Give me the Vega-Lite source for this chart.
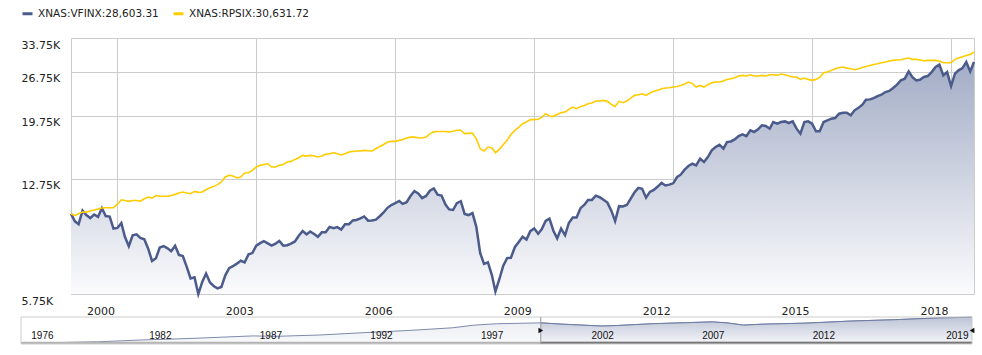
{
  "$schema": "https://vega.github.io/schema/vega-lite/v6.json",
  "background": "white",
  "padding": {"left": 20, "top": 7, "right": 5, "bottom": 5},
  "columns": 1,
  "spacing": -6,
  "config": {
    "font": "DejaVu Sans",
    "view": {"stroke": "#cccccc"},
    "axis": {"domain": false, "ticks": false, "tickSize": 0, "labelColor": "#222222", "labelFont": "DejaVu Sans", "labelFontSize": 11, "gridColor": "#cccccc", "gridWidth": 1, "title": null, "labelOverlap": false, "labelFlush": false}
  },
  "datasets": {
    "main": [
      {"d":"2000-01-01","s":"VFINX","v":10000},{"d":"2000-02-01","s":"VFINX","v":9500},{"d":"2000-03-01","s":"VFINX","v":9320},{"d":"2000-04-01","s":"VFINX","v":10233},{"d":"2000-05-01","s":"VFINX","v":9926},{"d":"2000-06-01","s":"VFINX","v":9717},{"d":"2000-07-01","s":"VFINX","v":9960},{"d":"2000-08-01","s":"VFINX","v":9801},{"d":"2000-09-01","s":"VFINX","v":10408},{"d":"2000-10-01","s":"VFINX","v":9857},{"d":"2000-11-01","s":"VFINX","v":9817},{"d":"2000-12-01","s":"VFINX","v":9032},
      {"d":"2001-01-01","s":"VFINX","v":9077},{"d":"2001-02-01","s":"VFINX","v":9395},{"d":"2001-03-01","s":"VFINX","v":8540},{"d":"2001-04-01","s":"VFINX","v":8002},{"d":"2001-05-01","s":"VFINX","v":8626},{"d":"2001-06-01","s":"VFINX","v":8686},{"d":"2001-07-01","s":"VFINX","v":8478},{"d":"2001-08-01","s":"VFINX","v":8393},{"d":"2001-09-01","s":"VFINX","v":7864},{"d":"2001-10-01","s":"VFINX","v":7227},{"d":"2001-11-01","s":"VFINX","v":7365},{"d":"2001-12-01","s":"VFINX","v":7932},
      {"d":"2002-01-01","s":"VFINX","v":8003},{"d":"2002-02-01","s":"VFINX","v":7883},{"d":"2002-03-01","s":"VFINX","v":7733},{"d":"2002-04-01","s":"VFINX","v":8027},{"d":"2002-05-01","s":"VFINX","v":7537},{"d":"2002-06-01","s":"VFINX","v":7477},{"d":"2002-07-01","s":"VFINX","v":6946},{"d":"2002-08-01","s":"VFINX","v":6404},{"d":"2002-09-01","s":"VFINX","v":6449},{"d":"2002-10-01","s":"VFINX","v":5746},{"d":"2002-11-01","s":"VFINX","v":6252},{"d":"2002-12-01","s":"VFINX","v":6621},
      {"d":"2003-01-01","s":"VFINX","v":6230},{"d":"2003-02-01","s":"VFINX","v":6068},{"d":"2003-03-01","s":"VFINX","v":5977},{"d":"2003-04-01","s":"VFINX","v":6037},{"d":"2003-05-01","s":"VFINX","v":6532},{"d":"2003-06-01","s":"VFINX","v":6878},{"d":"2003-07-01","s":"VFINX","v":6967},{"d":"2003-08-01","s":"VFINX","v":7093},{"d":"2003-09-01","s":"VFINX","v":7235},{"d":"2003-10-01","s":"VFINX","v":7155},{"d":"2003-11-01","s":"VFINX","v":7563},{"d":"2003-12-01","s":"VFINX","v":7631},
      {"d":"2004-01-01","s":"VFINX","v":8028},{"d":"2004-02-01","s":"VFINX","v":8172},{"d":"2004-03-01","s":"VFINX","v":8287},{"d":"2004-04-01","s":"VFINX","v":8162},{"d":"2004-05-01","s":"VFINX","v":8032},{"d":"2004-06-01","s":"VFINX","v":8144},{"d":"2004-07-01","s":"VFINX","v":8299},{"d":"2004-08-01","s":"VFINX","v":8025},{"d":"2004-09-01","s":"VFINX","v":8057},{"d":"2004-10-01","s":"VFINX","v":8146},{"d":"2004-11-01","s":"VFINX","v":8268},{"d":"2004-12-01","s":"VFINX","v":8599},
      {"d":"2005-01-01","s":"VFINX","v":8891},{"d":"2005-02-01","s":"VFINX","v":8678},{"d":"2005-03-01","s":"VFINX","v":8860},{"d":"2005-04-01","s":"VFINX","v":8701},{"d":"2005-05-01","s":"VFINX","v":8535},{"d":"2005-06-01","s":"VFINX","v":8808},{"d":"2005-07-01","s":"VFINX","v":8817},{"d":"2005-08-01","s":"VFINX","v":9143},{"d":"2005-09-01","s":"VFINX","v":9061},{"d":"2005-10-01","s":"VFINX","v":9133},{"d":"2005-11-01","s":"VFINX","v":8978},{"d":"2005-12-01","s":"VFINX","v":9319},
      {"d":"2006-01-01","s":"VFINX","v":9319},{"d":"2006-02-01","s":"VFINX","v":9561},{"d":"2006-03-01","s":"VFINX","v":9590},{"d":"2006-04-01","s":"VFINX","v":9705},{"d":"2006-05-01","s":"VFINX","v":9831},{"d":"2006-06-01","s":"VFINX","v":9546},{"d":"2006-07-01","s":"VFINX","v":9556},{"d":"2006-08-01","s":"VFINX","v":9613},{"d":"2006-09-01","s":"VFINX","v":9844},{"d":"2006-10-01","s":"VFINX","v":10100},{"d":"2006-11-01","s":"VFINX","v":10433},{"d":"2006-12-01","s":"VFINX","v":10631},
      {"d":"2007-01-01","s":"VFINX","v":10780},{"d":"2007-02-01","s":"VFINX","v":10942},{"d":"2007-03-01","s":"VFINX","v":10723},{"d":"2007-04-01","s":"VFINX","v":10841},{"d":"2007-05-01","s":"VFINX","v":11318},{"d":"2007-06-01","s":"VFINX","v":11714},{"d":"2007-07-01","s":"VFINX","v":11515},{"d":"2007-08-01","s":"VFINX","v":11158},{"d":"2007-09-01","s":"VFINX","v":11325},{"d":"2007-10-01","s":"VFINX","v":11744},{"d":"2007-11-01","s":"VFINX","v":11932},{"d":"2007-12-01","s":"VFINX","v":11431},
      {"d":"2008-01-01","s":"VFINX","v":11351},{"d":"2008-02-01","s":"VFINX","v":10670},{"d":"2008-03-01","s":"VFINX","v":10318},{"d":"2008-04-01","s":"VFINX","v":10277},{"d":"2008-05-01","s":"VFINX","v":10780},{"d":"2008-06-01","s":"VFINX","v":10920},{"d":"2008-07-01","s":"VFINX","v":10003},{"d":"2008-08-01","s":"VFINX","v":9923},{"d":"2008-09-01","s":"VFINX","v":10062},{"d":"2008-10-01","s":"VFINX","v":9166},{"d":"2008-11-01","s":"VFINX","v":7626},{"d":"2008-12-01","s":"VFINX","v":7077},
      {"d":"2009-01-01","s":"VFINX","v":7155},{"d":"2009-02-01","s":"VFINX","v":6554},{"d":"2009-03-01","s":"VFINX","v":5853},{"d":"2009-04-01","s":"VFINX","v":6368},{"d":"2009-05-01","s":"VFINX","v":6979},{"d":"2009-06-01","s":"VFINX","v":7370},{"d":"2009-07-01","s":"VFINX","v":7385},{"d":"2009-08-01","s":"VFINX","v":7946},{"d":"2009-09-01","s":"VFINX","v":8232},{"d":"2009-10-01","s":"VFINX","v":8537},{"d":"2009-11-01","s":"VFINX","v":8375},{"d":"2009-12-01","s":"VFINX","v":8877},
      {"d":"2010-01-01","s":"VFINX","v":9046},{"d":"2010-02-01","s":"VFINX","v":8720},{"d":"2010-03-01","s":"VFINX","v":8991},{"d":"2010-04-01","s":"VFINX","v":9530},{"d":"2010-05-01","s":"VFINX","v":9683},{"d":"2010-06-01","s":"VFINX","v":8908},{"d":"2010-07-01","s":"VFINX","v":8445},{"d":"2010-08-01","s":"VFINX","v":9036},{"d":"2010-09-01","s":"VFINX","v":8629},{"d":"2010-10-01","s":"VFINX","v":9397},{"d":"2010-11-01","s":"VFINX","v":9754},{"d":"2010-12-01","s":"VFINX","v":9754},
      {"d":"2011-01-01","s":"VFINX","v":10408},{"d":"2011-02-01","s":"VFINX","v":10658},{"d":"2011-03-01","s":"VFINX","v":11020},{"d":"2011-04-01","s":"VFINX","v":11020},{"d":"2011-05-01","s":"VFINX","v":11351},{"d":"2011-06-01","s":"VFINX","v":11226},{"d":"2011-07-01","s":"VFINX","v":11035},{"d":"2011-08-01","s":"VFINX","v":10815},{"d":"2011-09-01","s":"VFINX","v":10231},{"d":"2011-10-01","s":"VFINX","v":9515},{"d":"2011-11-01","s":"VFINX","v":10552},{"d":"2011-12-01","s":"VFINX","v":10531},
      {"d":"2012-01-01","s":"VFINX","v":10636},{"d":"2012-02-01","s":"VFINX","v":11115},{"d":"2012-03-01","s":"VFINX","v":11593},{"d":"2012-04-01","s":"VFINX","v":11976},{"d":"2012-05-01","s":"VFINX","v":11904},{"d":"2012-06-01","s":"VFINX","v":11190},{"d":"2012-07-01","s":"VFINX","v":11649},{"d":"2012-08-01","s":"VFINX","v":11812},{"d":"2012-09-01","s":"VFINX","v":12084},{"d":"2012-10-01","s":"VFINX","v":12398},{"d":"2012-11-01","s":"VFINX","v":12175},{"d":"2012-12-01","s":"VFINX","v":12248},
      {"d":"2013-01-01","s":"VFINX","v":12358},{"d":"2013-02-01","s":"VFINX","v":12910},{"d":"2013-03-01","s":"VFINX","v":13120},{"d":"2013-04-01","s":"VFINX","v":13580},{"d":"2013-05-01","s":"VFINX","v":13930},{"d":"2013-06-01","s":"VFINX","v":14150},{"d":"2013-07-01","s":"VFINX","v":13990},{"d":"2013-08-01","s":"VFINX","v":14650},{"d":"2013-09-01","s":"VFINX","v":14320},{"d":"2013-10-01","s":"VFINX","v":14820},{"d":"2013-11-01","s":"VFINX","v":15520},{"d":"2013-12-01","s":"VFINX","v":15880},
      {"d":"2014-01-01","s":"VFINX","v":16140},{"d":"2014-02-01","s":"VFINX","v":15700},{"d":"2014-03-01","s":"VFINX","v":16440},{"d":"2014-04-01","s":"VFINX","v":16510},{"d":"2014-05-01","s":"VFINX","v":16740},{"d":"2014-06-01","s":"VFINX","v":17130},{"d":"2014-07-01","s":"VFINX","v":17330},{"d":"2014-08-01","s":"VFINX","v":17130},{"d":"2014-09-01","s":"VFINX","v":17820},{"d":"2014-10-01","s":"VFINX","v":17620},{"d":"2014-11-01","s":"VFINX","v":17950},{"d":"2014-12-01","s":"VFINX","v":18450},
      {"d":"2015-01-01","s":"VFINX","v":18370},{"d":"2015-02-01","s":"VFINX","v":18030},{"d":"2015-03-01","s":"VFINX","v":18880},{"d":"2015-04-01","s":"VFINX","v":18660},{"d":"2015-05-01","s":"VFINX","v":18880},{"d":"2015-06-01","s":"VFINX","v":18960},{"d":"2015-07-01","s":"VFINX","v":18750},{"d":"2015-08-01","s":"VFINX","v":18960},{"d":"2015-09-01","s":"VFINX","v":18030},{"d":"2015-10-01","s":"VFINX","v":17420},{"d":"2015-11-01","s":"VFINX","v":18880},{"d":"2015-12-01","s":"VFINX","v":18970},
      {"d":"2016-01-01","s":"VFINX","v":18660},{"d":"2016-02-01","s":"VFINX","v":17700},{"d":"2016-03-01","s":"VFINX","v":17700},{"d":"2016-04-01","s":"VFINX","v":18880},{"d":"2016-05-01","s":"VFINX","v":19100},{"d":"2016-06-01","s":"VFINX","v":19320},{"d":"2016-07-01","s":"VFINX","v":19410},{"d":"2016-08-01","s":"VFINX","v":20000},{"d":"2016-09-01","s":"VFINX","v":20130},{"d":"2016-10-01","s":"VFINX","v":20130},{"d":"2016-11-01","s":"VFINX","v":19770},{"d":"2016-12-01","s":"VFINX","v":20470},
      {"d":"2017-01-01","s":"VFINX","v":20840},{"d":"2017-02-01","s":"VFINX","v":21280},{"d":"2017-03-01","s":"VFINX","v":22030},{"d":"2017-04-01","s":"VFINX","v":22080},{"d":"2017-05-01","s":"VFINX","v":22280},{"d":"2017-06-01","s":"VFINX","v":22590},{"d":"2017-07-01","s":"VFINX","v":22800},{"d":"2017-08-01","s":"VFINX","v":23230},{"d":"2017-09-01","s":"VFINX","v":23400},{"d":"2017-10-01","s":"VFINX","v":23880},{"d":"2017-11-01","s":"VFINX","v":24440},{"d":"2017-12-01","s":"VFINX","v":25180},
      {"d":"2018-01-01","s":"VFINX","v":25470},{"d":"2018-02-01","s":"VFINX","v":26790},{"d":"2018-03-01","s":"VFINX","v":25770},{"d":"2018-04-01","s":"VFINX","v":25180},{"d":"2018-05-01","s":"VFINX","v":25290},{"d":"2018-06-01","s":"VFINX","v":25770},{"d":"2018-07-01","s":"VFINX","v":25950},{"d":"2018-08-01","s":"VFINX","v":26670},{"d":"2018-09-01","s":"VFINX","v":27610},{"d":"2018-10-01","s":"VFINX","v":28060},{"d":"2018-11-01","s":"VFINX","v":26060},{"d":"2018-12-01","s":"VFINX","v":26670},
      {"d":"2019-01-01","s":"VFINX","v":24210},{"d":"2019-02-01","s":"VFINX","v":26370},{"d":"2019-03-01","s":"VFINX","v":26980},{"d":"2019-04-01","s":"VFINX","v":27410},{"d":"2019-05-01","s":"VFINX","v":28580},{"d":"2019-06-01","s":"VFINX","v":26790},{"d":"2019-07-01","s":"VFINX","v":28603},
      {"d":"2000-01-01","s":"RPSIX","v":10000},{"d":"2000-02-01","s":"RPSIX","v":9900},{"d":"2000-03-01","s":"RPSIX","v":10020},{"d":"2000-04-01","s":"RPSIX","v":10130},{"d":"2000-05-01","s":"RPSIX","v":10130},{"d":"2000-06-01","s":"RPSIX","v":10200},{"d":"2000-07-01","s":"RPSIX","v":10270},{"d":"2000-08-01","s":"RPSIX","v":10340},{"d":"2000-09-01","s":"RPSIX","v":10420},{"d":"2000-10-01","s":"RPSIX","v":10440},{"d":"2000-11-01","s":"RPSIX","v":10440},{"d":"2000-12-01","s":"RPSIX","v":10440},
      {"d":"2001-01-01","s":"RPSIX","v":10700},{"d":"2001-02-01","s":"RPSIX","v":11030},{"d":"2001-03-01","s":"RPSIX","v":10980},{"d":"2001-04-01","s":"RPSIX","v":10910},{"d":"2001-05-01","s":"RPSIX","v":10980},{"d":"2001-06-01","s":"RPSIX","v":10980},{"d":"2001-07-01","s":"RPSIX","v":10930},{"d":"2001-08-01","s":"RPSIX","v":11110},{"d":"2001-09-01","s":"RPSIX","v":11240},{"d":"2001-10-01","s":"RPSIX","v":11160},{"d":"2001-11-01","s":"RPSIX","v":11360},{"d":"2001-12-01","s":"RPSIX","v":11310},
      {"d":"2002-01-01","s":"RPSIX","v":11300},{"d":"2002-02-01","s":"RPSIX","v":11300},{"d":"2002-03-01","s":"RPSIX","v":11360},{"d":"2002-04-01","s":"RPSIX","v":11450},{"d":"2002-05-01","s":"RPSIX","v":11560},{"d":"2002-06-01","s":"RPSIX","v":11640},{"d":"2002-07-01","s":"RPSIX","v":11560},{"d":"2002-08-01","s":"RPSIX","v":11500},{"d":"2002-09-01","s":"RPSIX","v":11690},{"d":"2002-10-01","s":"RPSIX","v":11610},{"d":"2002-11-01","s":"RPSIX","v":11640},{"d":"2002-12-01","s":"RPSIX","v":11820},
      {"d":"2003-01-01","s":"RPSIX","v":11980},{"d":"2003-02-01","s":"RPSIX","v":12100},{"d":"2003-03-01","s":"RPSIX","v":12250},{"d":"2003-04-01","s":"RPSIX","v":12470},{"d":"2003-05-01","s":"RPSIX","v":12910},{"d":"2003-06-01","s":"RPSIX","v":13060},{"d":"2003-07-01","s":"RPSIX","v":13000},{"d":"2003-08-01","s":"RPSIX","v":12820},{"d":"2003-09-01","s":"RPSIX","v":12910},{"d":"2003-10-01","s":"RPSIX","v":13270},{"d":"2003-11-01","s":"RPSIX","v":13300},{"d":"2003-12-01","s":"RPSIX","v":13510},
      {"d":"2004-01-01","s":"RPSIX","v":13830},{"d":"2004-02-01","s":"RPSIX","v":13990},{"d":"2004-03-01","s":"RPSIX","v":14080},{"d":"2004-04-01","s":"RPSIX","v":14150},{"d":"2004-05-01","s":"RPSIX","v":13830},{"d":"2004-06-01","s":"RPSIX","v":13830},{"d":"2004-07-01","s":"RPSIX","v":13990},{"d":"2004-08-01","s":"RPSIX","v":14080},{"d":"2004-09-01","s":"RPSIX","v":14320},{"d":"2004-10-01","s":"RPSIX","v":14380},{"d":"2004-11-01","s":"RPSIX","v":14580},{"d":"2004-12-01","s":"RPSIX","v":14750},
      {"d":"2005-01-01","s":"RPSIX","v":14990},{"d":"2005-02-01","s":"RPSIX","v":14920},{"d":"2005-03-01","s":"RPSIX","v":14990},{"d":"2005-04-01","s":"RPSIX","v":14920},{"d":"2005-05-01","s":"RPSIX","v":14820},{"d":"2005-06-01","s":"RPSIX","v":14920},{"d":"2005-07-01","s":"RPSIX","v":15100},{"d":"2005-08-01","s":"RPSIX","v":15170},{"d":"2005-09-01","s":"RPSIX","v":15270},{"d":"2005-10-01","s":"RPSIX","v":15170},{"d":"2005-11-01","s":"RPSIX","v":15030},{"d":"2005-12-01","s":"RPSIX","v":15170},
      {"d":"2006-01-01","s":"RPSIX","v":15340},{"d":"2006-02-01","s":"RPSIX","v":15400},{"d":"2006-03-01","s":"RPSIX","v":15450},{"d":"2006-04-01","s":"RPSIX","v":15450},{"d":"2006-05-01","s":"RPSIX","v":15520},{"d":"2006-06-01","s":"RPSIX","v":15480},{"d":"2006-07-01","s":"RPSIX","v":15450},{"d":"2006-08-01","s":"RPSIX","v":15700},{"d":"2006-09-01","s":"RPSIX","v":15950},{"d":"2006-10-01","s":"RPSIX","v":16170},{"d":"2006-11-01","s":"RPSIX","v":16440},{"d":"2006-12-01","s":"RPSIX","v":16520},
      {"d":"2007-01-01","s":"RPSIX","v":16520},{"d":"2007-02-01","s":"RPSIX","v":16630},{"d":"2007-03-01","s":"RPSIX","v":16740},{"d":"2007-04-01","s":"RPSIX","v":16900},{"d":"2007-05-01","s":"RPSIX","v":17010},{"d":"2007-06-01","s":"RPSIX","v":17010},{"d":"2007-07-01","s":"RPSIX","v":16940},{"d":"2007-08-01","s":"RPSIX","v":16900},{"d":"2007-09-01","s":"RPSIX","v":17010},{"d":"2007-10-01","s":"RPSIX","v":17400},{"d":"2007-11-01","s":"RPSIX","v":17640},{"d":"2007-12-01","s":"RPSIX","v":17680},
      {"d":"2008-01-01","s":"RPSIX","v":17680},{"d":"2008-02-01","s":"RPSIX","v":17680},{"d":"2008-03-01","s":"RPSIX","v":17640},{"d":"2008-04-01","s":"RPSIX","v":17720},{"d":"2008-05-01","s":"RPSIX","v":17840},{"d":"2008-06-01","s":"RPSIX","v":17840},{"d":"2008-07-01","s":"RPSIX","v":17420},{"d":"2008-08-01","s":"RPSIX","v":17460},{"d":"2008-09-01","s":"RPSIX","v":17500},{"d":"2008-10-01","s":"RPSIX","v":16800},{"d":"2008-11-01","s":"RPSIX","v":15700},{"d":"2008-12-01","s":"RPSIX","v":15450},
      {"d":"2009-01-01","s":"RPSIX","v":15880},{"d":"2009-02-01","s":"RPSIX","v":15770},{"d":"2009-03-01","s":"RPSIX","v":15270},{"d":"2009-04-01","s":"RPSIX","v":15630},{"d":"2009-05-01","s":"RPSIX","v":16140},{"d":"2009-06-01","s":"RPSIX","v":16630},{"d":"2009-07-01","s":"RPSIX","v":17320},{"d":"2009-08-01","s":"RPSIX","v":17820},{"d":"2009-09-01","s":"RPSIX","v":18200},{"d":"2009-10-01","s":"RPSIX","v":18660},{"d":"2009-11-01","s":"RPSIX","v":18880},{"d":"2009-12-01","s":"RPSIX","v":19190},
      {"d":"2010-01-01","s":"RPSIX","v":19190},{"d":"2010-02-01","s":"RPSIX","v":19250},{"d":"2010-03-01","s":"RPSIX","v":19500},{"d":"2010-04-01","s":"RPSIX","v":20000},{"d":"2010-05-01","s":"RPSIX","v":19680},{"d":"2010-06-01","s":"RPSIX","v":19640},{"d":"2010-07-01","s":"RPSIX","v":19900},{"d":"2010-08-01","s":"RPSIX","v":20150},{"d":"2010-09-01","s":"RPSIX","v":20230},{"d":"2010-10-01","s":"RPSIX","v":20600},{"d":"2010-11-01","s":"RPSIX","v":20940},{"d":"2010-12-01","s":"RPSIX","v":20700},
      {"d":"2011-01-01","s":"RPSIX","v":21020},{"d":"2011-02-01","s":"RPSIX","v":21160},{"d":"2011-03-01","s":"RPSIX","v":21430},{"d":"2011-04-01","s":"RPSIX","v":21530},{"d":"2011-05-01","s":"RPSIX","v":21830},{"d":"2011-06-01","s":"RPSIX","v":21830},{"d":"2011-07-01","s":"RPSIX","v":21930},{"d":"2011-08-01","s":"RPSIX","v":21780},{"d":"2011-09-01","s":"RPSIX","v":21330},{"d":"2011-10-01","s":"RPSIX","v":21020},{"d":"2011-11-01","s":"RPSIX","v":21780},{"d":"2011-12-01","s":"RPSIX","v":21580},
      {"d":"2012-01-01","s":"RPSIX","v":21830},{"d":"2012-02-01","s":"RPSIX","v":22280},{"d":"2012-03-01","s":"RPSIX","v":22700},{"d":"2012-04-01","s":"RPSIX","v":22800},{"d":"2012-05-01","s":"RPSIX","v":22960},{"d":"2012-06-01","s":"RPSIX","v":22700},{"d":"2012-07-01","s":"RPSIX","v":23070},{"d":"2012-08-01","s":"RPSIX","v":23340},{"d":"2012-09-01","s":"RPSIX","v":23500},{"d":"2012-10-01","s":"RPSIX","v":23770},{"d":"2012-11-01","s":"RPSIX","v":23880},{"d":"2012-12-01","s":"RPSIX","v":23930},
      {"d":"2013-01-01","s":"RPSIX","v":24040},{"d":"2013-02-01","s":"RPSIX","v":24150},{"d":"2013-03-01","s":"RPSIX","v":24320},{"d":"2013-04-01","s":"RPSIX","v":24540},{"d":"2013-05-01","s":"RPSIX","v":24890},{"d":"2013-06-01","s":"RPSIX","v":24630},{"d":"2013-07-01","s":"RPSIX","v":24040},{"d":"2013-08-01","s":"RPSIX","v":24320},{"d":"2013-09-01","s":"RPSIX","v":24040},{"d":"2013-10-01","s":"RPSIX","v":24440},{"d":"2013-11-01","s":"RPSIX","v":24780},{"d":"2013-12-01","s":"RPSIX","v":24890},
      {"d":"2014-01-01","s":"RPSIX","v":24890},{"d":"2014-02-01","s":"RPSIX","v":25060},{"d":"2014-03-01","s":"RPSIX","v":25350},{"d":"2014-04-01","s":"RPSIX","v":25470},{"d":"2014-05-01","s":"RPSIX","v":25650},{"d":"2014-06-01","s":"RPSIX","v":25950},{"d":"2014-07-01","s":"RPSIX","v":26060},{"d":"2014-08-01","s":"RPSIX","v":25950},{"d":"2014-09-01","s":"RPSIX","v":26180},{"d":"2014-10-01","s":"RPSIX","v":25950},{"d":"2014-11-01","s":"RPSIX","v":25950},{"d":"2014-12-01","s":"RPSIX","v":26060},
      {"d":"2015-01-01","s":"RPSIX","v":25950},{"d":"2015-02-01","s":"RPSIX","v":26180},{"d":"2015-03-01","s":"RPSIX","v":26180},{"d":"2015-04-01","s":"RPSIX","v":26060},{"d":"2015-05-01","s":"RPSIX","v":26300},{"d":"2015-06-01","s":"RPSIX","v":26180},{"d":"2015-07-01","s":"RPSIX","v":25950},{"d":"2015-08-01","s":"RPSIX","v":25770},{"d":"2015-09-01","s":"RPSIX","v":25770},{"d":"2015-10-01","s":"RPSIX","v":25350},{"d":"2015-11-01","s":"RPSIX","v":25590},{"d":"2015-12-01","s":"RPSIX","v":25350},
      {"d":"2016-01-01","s":"RPSIX","v":25180},{"d":"2016-02-01","s":"RPSIX","v":25350},{"d":"2016-03-01","s":"RPSIX","v":25700},{"d":"2016-04-01","s":"RPSIX","v":26540},{"d":"2016-05-01","s":"RPSIX","v":26670},{"d":"2016-06-01","s":"RPSIX","v":26980},{"d":"2016-07-01","s":"RPSIX","v":27290},{"d":"2016-08-01","s":"RPSIX","v":27480},{"d":"2016-09-01","s":"RPSIX","v":27610},{"d":"2016-10-01","s":"RPSIX","v":27410},{"d":"2016-11-01","s":"RPSIX","v":27290},{"d":"2016-12-01","s":"RPSIX","v":27100},
      {"d":"2017-01-01","s":"RPSIX","v":27290},{"d":"2017-02-01","s":"RPSIX","v":27540},{"d":"2017-03-01","s":"RPSIX","v":27730},{"d":"2017-04-01","s":"RPSIX","v":27920},{"d":"2017-05-01","s":"RPSIX","v":28110},{"d":"2017-06-01","s":"RPSIX","v":28260},{"d":"2017-07-01","s":"RPSIX","v":28450},{"d":"2017-08-01","s":"RPSIX","v":28580},{"d":"2017-09-01","s":"RPSIX","v":28780},{"d":"2017-10-01","s":"RPSIX","v":28910},{"d":"2017-11-01","s":"RPSIX","v":28980},{"d":"2017-12-01","s":"RPSIX","v":29050},
      {"d":"2018-01-01","s":"RPSIX","v":29250},{"d":"2018-02-01","s":"RPSIX","v":29380},{"d":"2018-03-01","s":"RPSIX","v":29120},{"d":"2018-04-01","s":"RPSIX","v":29120},{"d":"2018-05-01","s":"RPSIX","v":28980},{"d":"2018-06-01","s":"RPSIX","v":28850},{"d":"2018-07-01","s":"RPSIX","v":28910},{"d":"2018-08-01","s":"RPSIX","v":28910},{"d":"2018-09-01","s":"RPSIX","v":28910},{"d":"2018-10-01","s":"RPSIX","v":28780},{"d":"2018-11-01","s":"RPSIX","v":28450},{"d":"2018-12-01","s":"RPSIX","v":28450},
      {"d":"2019-01-01","s":"RPSIX","v":28450},{"d":"2019-02-01","s":"RPSIX","v":29120},{"d":"2019-03-01","s":"RPSIX","v":29380},{"d":"2019-04-01","s":"RPSIX","v":29650},{"d":"2019-05-01","s":"RPSIX","v":29920},{"d":"2019-06-01","s":"RPSIX","v":30130},{"d":"2019-07-01","s":"RPSIX","v":30632}
    ],
    "nav": [
      {"d":"1976-09-01","v":8},{"d":"1978-01-01","v":15},{"d":"1980-01-01","v":25},{"d":"1982-01-01","v":45},{"d":"1984-01-01","v":60},{"d":"1985-01-01","v":70},{"d":"1987-01-01","v":90},{"d":"1988-01-01","v":85},{"d":"1990-01-01","v":100},{"d":"1992-01-01","v":126},{"d":"1994-01-01","v":150},{"d":"1996-01-01","v":180},{"d":"1997-01-01","v":210},{"d":"1998-01-01","v":225},{"d":"2000-01-01","v":235},{"d":"2001-01-01","v":220},{"d":"2002-10-01","v":200},{"d":"2003-06-01","v":205},{"d":"2005-01-01","v":225},{"d":"2007-10-01","v":246},{"d":"2008-06-01","v":235},{"d":"2009-03-01","v":210},{"d":"2010-01-01","v":220},{"d":"2012-01-01","v":232},{"d":"2014-01-01","v":255},{"d":"2016-01-01","v":270},{"d":"2018-01-01","v":290},{"d":"2019-07-01","v":298}
    ],
    "bar": [
      {"a":"1976-07-01","b":"2019-07-01","k":"all"},{"a":"2000-01-01","b":"2019-07-01","k":"sel"}
    ],
    "handles": [
      {"d":"2000-01-01","h":"left"},{"d":"2019-07-01","h":"right"}
    ]
  },
  "concat": [
    {
      "width": 903,
      "height": 256,
      "data": {"name": "main"},
      "encoding": {
        "x": {"field": "d", "type": "temporal",
          "scale": {"domain": [946684800000, 1561939200000]},
          "axis": {"values": [978307200000, 1072915200000, 1167609600000, 1262304000000, 1356998400000, 1451606400000, 1546300800000],
            "labelExpr": "utcFormat(datum.value - 86400000, '%Y')", "labelAlign": "right", "labelOffset": -3, "labelPadding": 11, "labelBaseline": "top", "grid": true}},
        "y": {"field": "v", "type": "quantitative",
          "scale": {"type": "log", "domain": [5750, 33750], "nice": false},
          "axis": {"values": [5750, 12750, 19750, 26750, 33750], "labelExpr": "format(datum.value/1000, '.2f') + 'K'", "labelAlign": "left", "labelBaseline": "top", "labelPadding": 50, "labelOffset": 1, "grid": true}}
      },
      "layer": [
        {"transform": [{"filter": "datum.s == 'VFINX'"}],
         "mark": {"type": "area", "fill": {"gradient": "linear", "x1": 0, "y1": 0, "x2": 0, "y2": 1, "stops": [{"offset": 0, "color": "#a3adc6"}, {"offset": 1, "color": "#fbfbfd"}]}},
         "encoding": {"y2": {"datum": 5750}}},
        {"transform": [{"filter": "datum.s == 'VFINX'"}],
         "mark": {"type": "line", "strokeWidth": 2.5},
         "encoding": {"color": {"field": "s", "type": "nominal",
           "scale": {"domain": ["VFINX", "RPSIX"], "range": ["#4b5b8b", "#ffcc00"]},
           "legend": {"orient": "none", "legendX": -50, "legendY": -31, "direction": "horizontal", "title": null, "padding": 0,
             "symbolType": "stroke", "symbolSize": 100, "symbolStrokeWidth": 3, "labelFont": "DejaVu Sans", "labelFontSize": 10.5, "labelColor": "#222222", "labelOffset": 4, "columnPadding": 8,
             "labelExpr": "datum.label == 'VFINX' ? 'XNAS:VFINX:28,603.31' : 'XNAS:RPSIX:30,631.72'"}}}},
        {"transform": [{"filter": "datum.s == 'RPSIX'"}],
         "mark": {"type": "line", "strokeWidth": 1.6},
         "encoding": {"color": {"field": "s", "type": "nominal"}}}
      ]
    },
    {
      "width": 903,
      "height": 27,
      "view": {"stroke": null},
      "encoding": {
        "x": {"field": "d", "type": "temporal",
          "scale": {"domain": [205027200000, 1561939200000], "range": [-50, 901]},
          "axis": {"values": [210384000000, 378691200000, 536457600000, 694224000000, 852076800000, 1009843200000, 1167609600000, 1325376000000, 1561939200000],
            "labelExpr": "datum.value > 1546300800000 ? '2019' : utcFormat(datum.value, '%Y')",
            "labelFont": "Liberation Sans", "labelFontSize": 10, "labelColor": "#111111", "labelBaseline": "alphabetic", "labelPadding": -6, "zindex": 2,
            "labelAlign": {"condition": {"test": "datum.value > 1546300800000", "value": "right"}, "value": "left"},
            "labelOffset": {"condition": {"test": "datum.value > 1546300800000", "value": -4}, "value": 6},
            "grid": false}}
      },
      "layer": [
        {"data": {"name": "nav"},
         "mark": {"type": "area", "fill": {"gradient": "linear", "x1": 0, "y1": 0, "x2": 0, "y2": 1, "stops": [{"offset": 0, "color": "#dfe2ea"}, {"offset": 1, "color": "#f7f8fa"}]}, "line": {"stroke": "#7f8aac", "strokeWidth": 1}},
         "encoding": {"y": {"field": "v", "type": "quantitative", "scale": {"domain": [0, 300]}, "axis": null}}},
        {"data": {"name": "nav"},
         "transform": [{"filter": "time(datum.d) >= 946684800000"}],
         "mark": {"type": "area", "fill": {"gradient": "linear", "x1": 0, "y1": 0, "x2": 0, "y2": 1, "stops": [{"offset": 0, "color": "#aab3cb"}, {"offset": 1, "color": "#f4f5f9"}]}, "line": {"stroke": "#6f7ca3", "strokeWidth": 1}},
         "encoding": {"y": {"field": "v", "type": "quantitative"}}},
        {"data": {"name": "bar"},
         "transform": [{"filter": "datum.k == 'all'"}],
         "mark": {"type": "rect", "color": "#b3b3b3"},
         "encoding": {"x": {"field": "a", "type": "temporal"}, "x2": {"field": "b"}, "y": {"datum": 0}, "y2": {"datum": 26}}},
        {"data": {"name": "bar"},
         "transform": [{"filter": "datum.k == 'sel'"}],
         "mark": {"type": "rect", "color": "#777777"},
         "encoding": {"x": {"field": "a", "type": "temporal"}, "x2": {"field": "b"}, "y": {"datum": 0}, "y2": {"datum": 26}}},
        {"data": {"name": "bar"},
         "transform": [{"filter": "datum.k == 'all'"}],
         "mark": {"type": "rect", "filled": false, "stroke": "#cccccc", "strokeWidth": 1},
         "encoding": {"x": {"field": "a", "type": "temporal"}, "x2": {"field": "b"}, "y": {"datum": 0}, "y2": {"datum": 300}}},
        {"data": {"name": "handles"},
         "transform": [{"filter": "datum.h == 'left'"}],
         "mark": {"type": "rule", "color": "#999999", "strokeWidth": 1},
         "encoding": {}},
        {"data": {"name": "handles"},
         "transform": [{"filter": "datum.h == 'left'"}],
         "mark": {"type": "point", "shape": "triangle-right", "filled": true, "color": "#111111", "size": 30, "opacity": 1},
         "encoding": {"y": {"datum": 150}}},
        {"data": {"name": "handles"},
         "transform": [{"filter": "datum.h == 'right'"}],
         "mark": {"type": "point", "shape": "triangle-left", "filled": true, "color": "#111111", "size": 30, "opacity": 1},
         "encoding": {"y": {"datum": 150}}}
      ]
    }
  ]
}
